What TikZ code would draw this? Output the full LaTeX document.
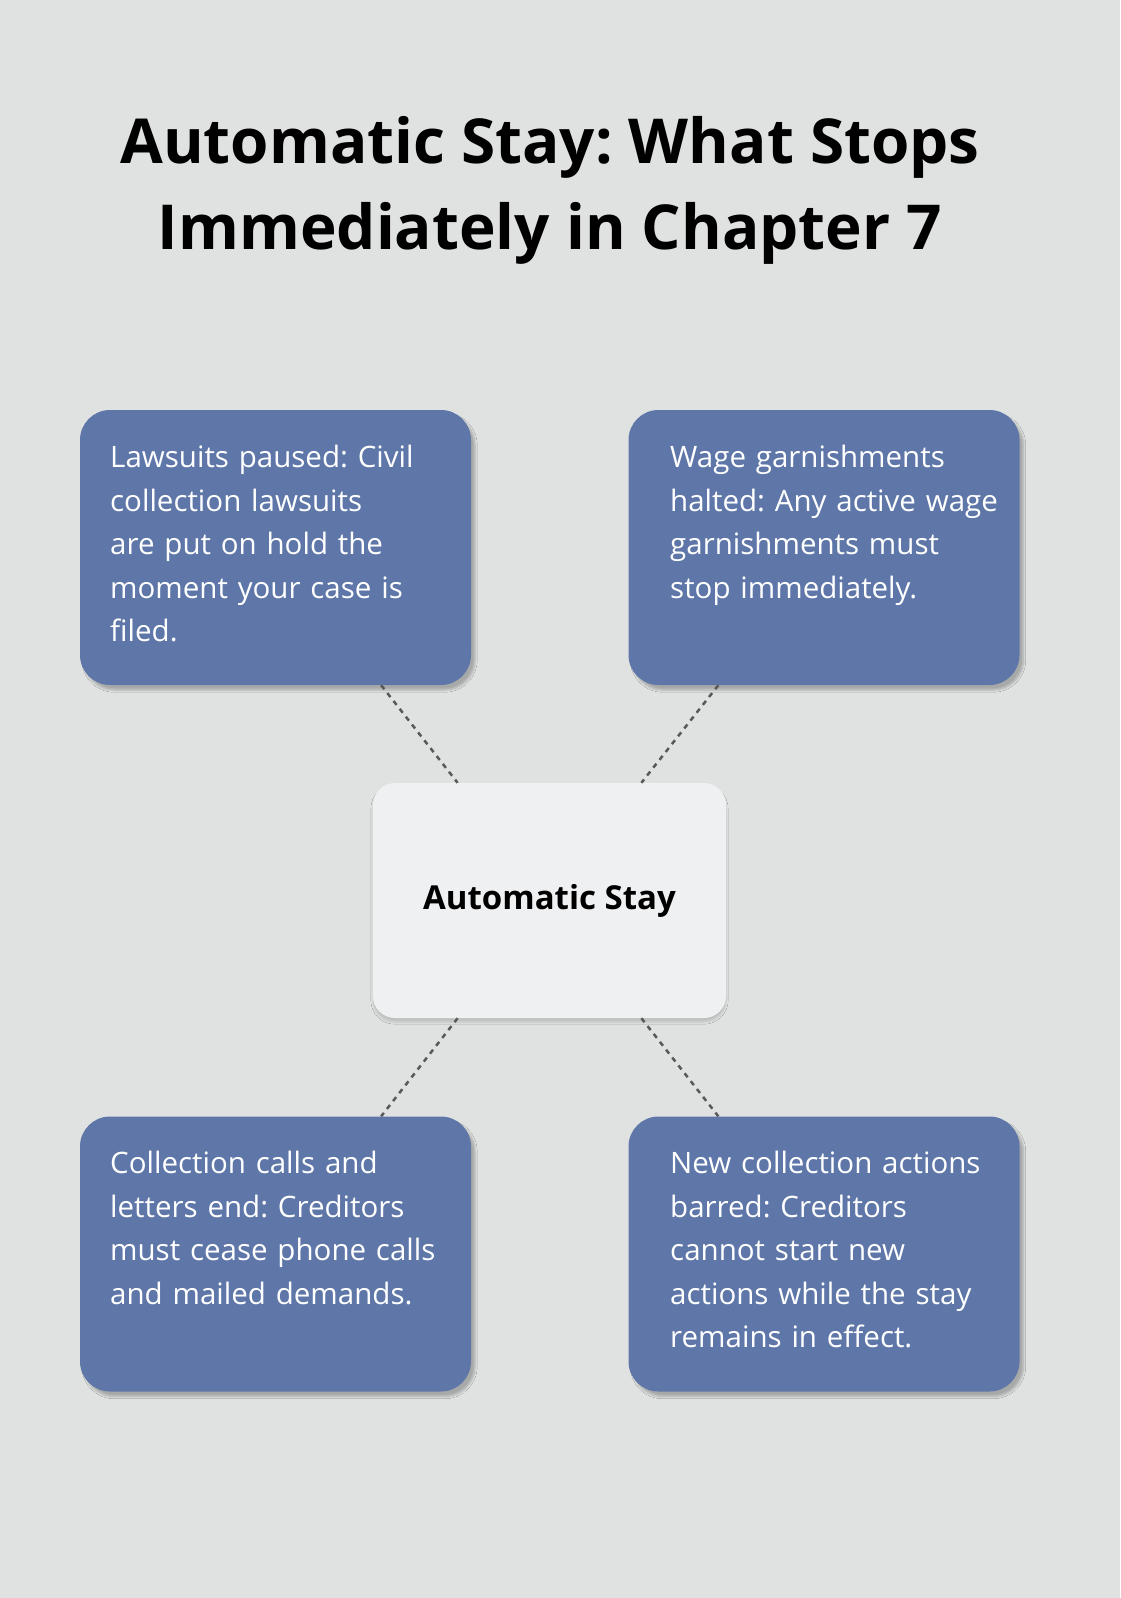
\documentclass[tikz,border=0pt]{standalone}
\usepackage{fontspec}
\setmainfont{Open Sans}
\usetikzlibrary{calc,shadows.blur}
\definecolor{bg}{HTML}{E0E2E1}
\definecolor{boxblue}{HTML}{5E77A8}
\definecolor{cbox}{HTML}{EFF0F2}
\hyphenpenalty=10000
\exhyphenpenalty=10000
\begin{document}
\frenchspacing
\begin{tikzpicture}[x=1pt,y=-1pt,
  blue box/.style={fill=boxblue,rounded corners=30pt,blur shadow={shadow blur steps=6,shadow xshift=4pt,shadow yshift=-5pt,shadow opacity=25},minimum width=391pt,minimum height=275pt,draw=none},
  btxt/.style={text=white,font=\fontsize{29.5}{43.5}\selectfont,text width=335pt,align=left,inner sep=0pt,anchor=north west},
  conn/.style={draw=black!65,line width=2.5pt,dash pattern=on 5pt off 5pt}]
\fill[bg] (0,0) rectangle (1120,1598);
\node[font=\fontsize{62}{86}\selectfont\bfseries,align=center] (title) at (550,190) {Automatic Stay: What Stops\\Immediately in Chapter 7};
\node[blue box] (tl) at (275.5,547.5) {};
\node[blue box] (tr) at (824,547.5) {};
\node[blue box] (bl) at (275.5,1254) {};
\node[blue box] (br) at (824,1254) {};
\node[fill=cbox,rounded corners=22pt,minimum width=353pt,minimum height=235pt,blur shadow={shadow blur steps=6,shadow xshift=0pt,shadow yshift=-4pt,shadow opacity=15},font=\fontsize{33}{40}\selectfont\bfseries] (c) at (549.5,900.5) {Automatic Stay};
\node[btxt] (tlt) at (110,445) {Lawsuits paused: Civil collection lawsuits are put on hold the moment your case is filed.};
\node[btxt] (trt) at (670,445) {Wage garnishments halted: Any active wage garnishments must stop immediately.};
\node[btxt] (blt) at (110,1151) {Collection calls and letters end: Creditors must cease phone calls and mailed demands.};
\node[btxt] (brt) at (670,1151) {New collection actions barred: Creditors cannot start new actions while the stay remains in effect.};
\draw[conn] ($(tl.south west)!0.77!(tl.south east)$) -- ($(c.north west)!0.24!(c.north east)$);
\draw[conn] ($(tr.south west)!0.23!(tr.south east)$) -- ($(c.north west)!0.76!(c.north east)$);
\draw[conn] ($(c.south west)!0.24!(c.south east)$) -- ($(bl.north west)!0.77!(bl.north east)$);
\draw[conn] ($(c.south west)!0.76!(c.south east)$) -- ($(br.north west)!0.23!(br.north east)$);
\pgfresetboundingbox
\useasboundingbox (0,0) rectangle (1120,1598);
\end{tikzpicture}
\end{document}
